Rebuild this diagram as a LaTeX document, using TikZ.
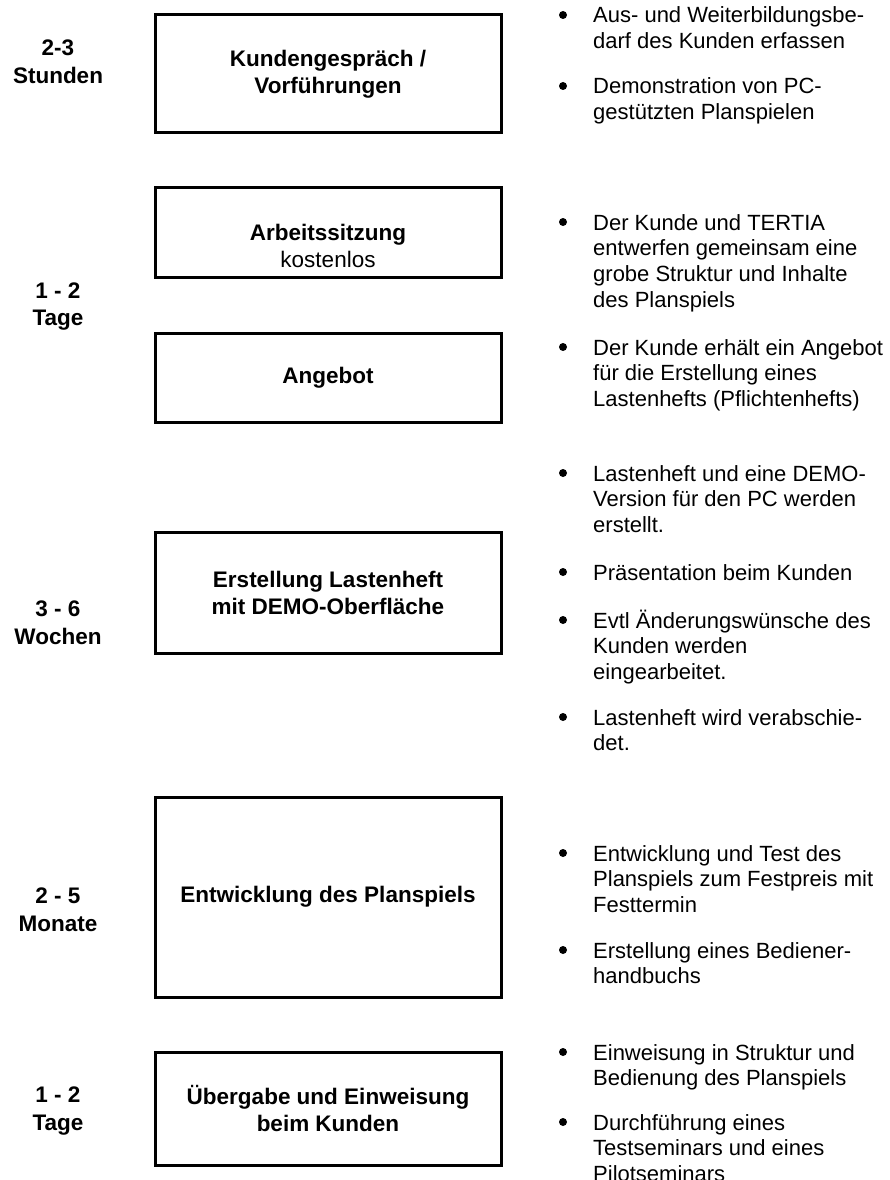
\documentclass[tikz,border=0pt]{standalone}
\usepackage{fontspec}
\setmainfont{Liberation Sans}
\begin{document}
\begin{tikzpicture}[x=1pt,y=-1pt,
  stagebox/.style={draw=black, line width=3pt, minimum width=346pt, inner sep=0pt,
    font=\fontsize{22.5}{27}\selectfont\bfseries, align=center},
  boxtext/.style={inner sep=0pt, font=\fontsize{22.5}{27}\selectfont\bfseries, align=center},
  durlabel/.style={inner sep=0pt, font=\fontsize{22.5}{27.5}\selectfont\bfseries, align=center},
  bulletdot/.style={circle, fill=black, inner sep=0pt, minimum size=8pt},
  itemtext/.style={anchor=base west, inner sep=0pt, align=left, font=\fontsize{22}{25.7}\selectfont}]
\useasboundingbox (0,0) rectangle (889,1180);
\clip (0,0) rectangle (889,1180);

% stage boxes
\node[stagebox, minimum height=118pt] (b1) at (328,74) {Kundengespräch /\\Vorführungen};
\node[stagebox, minimum height=90pt] (b2) at (328,232) {};
\node[boxtext] (t2) at (328,246) {Arbeitssitzung\\{\mdseries kostenlos}};
\node[stagebox, minimum height=89pt] (b3) at (328,377.5) {Angebot};
\node[stagebox, minimum height=121pt] (b4) at (328,592.5) {Erstellung Lastenheft\\mit DEMO-Oberfläche};
\node[stagebox, minimum height=200pt] (b5) at (328,897) {Entwicklung des Planspiels};
\node[stagebox, minimum height=113pt] (b6) at (328,1108.5) {Übergabe und Einweisung\\beim Kunden};

% duration labels
\node[durlabel] (d1) at (58,62) {2-3\\Stunden};
\node[durlabel] (d2) at (58,306.5) {1 - 2\\Tage};
\node[durlabel] (d3) at (58,622.5) {3 - 6\\Wochen};
\node[durlabel] (d4) at (58,909.5) {2 - 5\\Monate};
\node[durlabel] (d5) at (58,1111) {1 - 2\\Tage};

% bullet items (base anchor = baseline of the last line)
\node[bulletdot] (p1) at (563,15) {};
\node[itemtext] (i1) at (593,48.7) {Aus- und Weiterbildungsbe-\\darf des Kunden erfassen};
\node[bulletdot] (p2) at (563,86) {};
\node[itemtext] (i2) at (593,119.7) {Demonstration von PC-\\gestützten Planspielen};
\node[bulletdot] (p3) at (563,222) {};
\node[itemtext] (i3) at (593,307.1) {Der Kunde und TERTIA\\entwerfen gemeinsam eine\\grobe Struktur und Inhalte\\des Planspiels};
\node[bulletdot] (p4) at (563,347) {};
\node[itemtext] (i4) at (593,406.4) {Der Kunde erhält ein Angebot\\für die Erstellung eines\\Lastenhefts (Pflichtenhefts)};
\node[bulletdot] (p5) at (563,473) {};
\node[itemtext] (i5) at (593,532.4) {Lastenheft und eine DEMO-\\Version für den PC werden\\erstellt.};
\node[bulletdot] (p6) at (563,572) {};
\node[itemtext] (i6) at (593,580) {Präsentation beim Kunden};
\node[bulletdot] (p7) at (563,620) {};
\node[itemtext] (i7) at (593,679.4) {Evtl Änderungswünsche des\\Kunden werden\\eingearbeitet.};
\node[bulletdot] (p8) at (563,717) {};
\node[itemtext] (i8) at (593,750.7) {Lastenheft wird verabschie-\\det.};
\node[bulletdot] (p9) at (563,853) {};
\node[itemtext] (i9) at (593,912.4) {Entwicklung und Test des\\Planspiels zum Festpreis mit\\Festtermin};
\node[bulletdot] (p10) at (563,950) {};
\node[itemtext] (i10) at (593,983.7) {Erstellung eines Bediener-\\handbuchs};
\node[bulletdot] (p11) at (563,1052) {};
\node[itemtext] (i11) at (593,1085.7) {Einweisung in Struktur und\\Bedienung des Planspiels};
\node[bulletdot] (p12) at (563,1122) {};
\node[itemtext] (i12) at (593,1181.4) {Durchführung eines\\Testseminars und eines\\Pilotseminars};
\end{tikzpicture}
\end{document}
